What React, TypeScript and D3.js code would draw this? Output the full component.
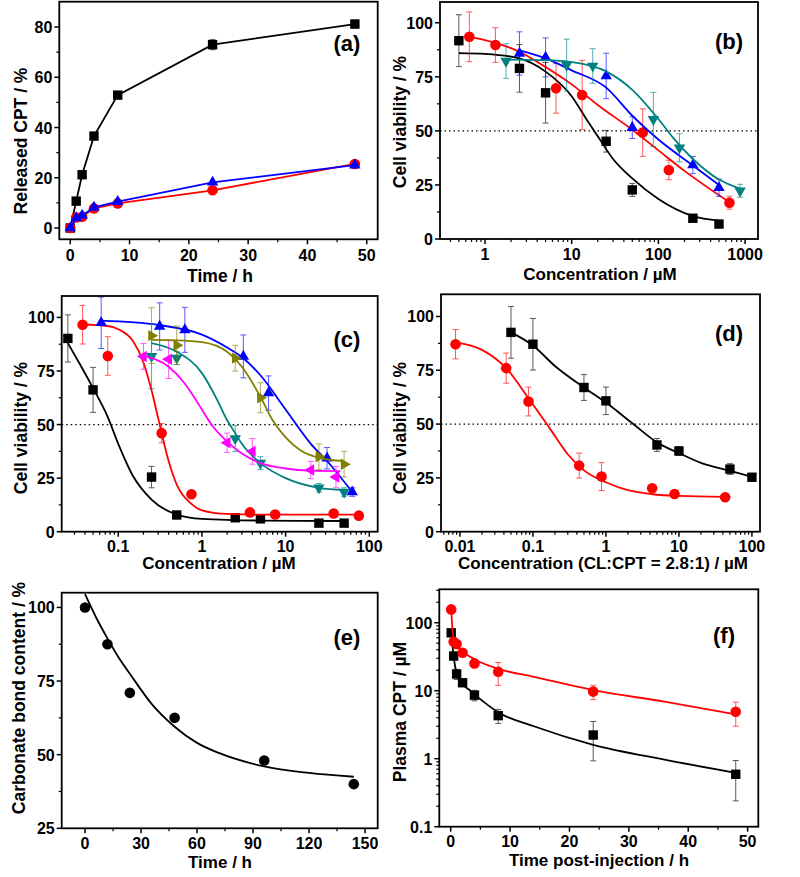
import React from 'react';
import * as d3 from 'd3';

const FONT = "'Liberation Sans', Arial, Helvetica, sans-serif";
const BLACK = '#000000';
const RED = '#ff0000';
const BLUE = '#0000ff';
const TEAL = '#008080';
const MAGENTA = '#ff00ff';
const OLIVE = '#808000';

// ---------- Panel (a) ----------
const aTime = [0, 1, 2, 4, 8, 24, 48];
const aBlack = [0, 10.7, 21.2, 36.6, 52.9, 73, 81.2];
const aBlackErr = [0, 0, 0, 0, 0, 2, 1.5];
const aRed = [0, 4.2, 4.5, 7.8, 9.8, 15, 25.5];
const aBlue = [0, 4, 5, 8.2, 10.5, 18.2, 25];
const aXTicks = [0, 10, 20, 30, 40, 50];
const aXMinor = [5, 15, 25, 35, 45];
const aYTicks = [0, 20, 40, 60, 80];
const aYMinor = [10, 30, 50, 70];

// ---------- Panel (b) ----------
const bBlackX = [0.5, 2.5, 5, 25, 50, 250, 500];
const bBlackY = [91.7, 78.9, 67.6, 45.2, 22.7, 9.6, 6.9];
const bBlackErr = [12, 11, 14, 5, 3, 1, 1];
const bBlackFitX = [0.5, 1, 2.5, 5, 10, 15, 20, 30, 50, 100, 250, 500];
const bBlackFitY = [86, 85.6, 83.5, 77.4, 66, 55, 47.5, 37, 28, 18.5, 10.6, 8.5];
const bRedX = [0.66, 1.32, 6.6, 13.2, 66, 132, 660];
const bRedY = [93.5, 89.7, 69.7, 66.6, 49.2, 31.9, 16.8];
const bRedErr = [11.5, 8, 11.5, 16, 11, 4.5, 3];
const bRedFitX = [0.66, 1, 2.5, 5, 10, 20, 50, 100, 200, 660];
const bRedFitY = [93.5, 92, 86.6, 79.5, 71.5, 62, 50.5, 41, 31.5, 17];
const bBlueX = [2.5, 5, 25, 50, 250, 500];
const bBlueY = [85.8, 84, 75.4, 51.5, 34.2, 23.7];
const bBlueErr = [10, 9, 10.5, 5, 4, 4];
const bBlueFitX = [2.5, 5, 10, 25, 50, 100, 250, 500];
const bBlueFitY = [87.2, 83.5, 78, 70, 57, 46, 34, 25];
const bTealX = [1.75, 8.75, 17.5, 87.5, 175, 875];
const bTealY = [82.3, 80.4, 80, 55.3, 42.2, 22.3];
const bTealErr = [8, 12, 8, 12.5, 6.5, 3];
const bTealFitX = [1.75, 5, 10, 25, 50, 100, 150, 250, 500, 875];
const bTealFitY = [83, 82.7, 81.8, 77.5, 69, 55.5, 46.5, 37, 27.5, 23.3];
const bXTicks = [1, 10, 100, 1000];
const bYTicks = [0, 25, 50, 75, 100];
const bYMinor = [12.5, 37.5, 62.5, 87.5];

// ---------- Panel (c) ----------
const cBlackX = [0.025, 0.05, 0.25, 0.5, 2.5, 5, 25, 50];
const cBlackY = [90.2, 66.2, 25.5, 7.8, 6.5, 6, 4, 4];
const cBlackErr = [11, 10.5, 5, 1, 1, 1, 0.5, 0.5];
const cBlackFitX = [0.025, 0.035, 0.05, 0.075, 0.1, 0.15, 0.25, 0.5, 1, 5, 50];
const cBlackFitY = [88, 78, 67, 53.5, 41, 26, 15, 8, 6, 5.2, 5];
const cRedX = [0.0375, 0.075, 0.33, 0.75, 3.75, 7.5, 37.5, 75];
const cRedY = [96.6, 82, 46, 17.5, 9, 8, 8.5, 7.5];
const cRedErr = [9, 9, 4.5, 1, 1, 1, 1, 1];
const cRedFitX = [0.0375, 0.075, 0.1, 0.15, 0.2, 0.25, 0.3, 0.4, 0.5, 0.75, 1, 2, 5, 75];
const cRedFitY = [96.7, 96, 94.5, 89, 79, 66, 53, 33, 22, 13, 10, 8.3, 8, 8];
const cBlueX = [0.0625, 0.3125, 0.625, 3.125, 6.25, 31.25, 62.5];
const cBlueY = [97.5, 95.8, 94.2, 81.8, 64.7, 34.3, 18.5];
const cBlueErr = [12, 11, 10.5, 10, 8, 5, 2];
const cBlueFitX = [0.0625, 0.3, 1, 2, 3, 5, 10, 20, 31.25, 62.5];
const cBlueFitY = [98.5, 96.5, 92, 86, 81.5, 73, 57, 41, 33, 18.5];
const cOliveX = [0.25, 0.5, 2.5, 5, 25, 50];
const cOliveY = [91.5, 87, 81, 62.5, 35, 31.5];
const cOliveErr = [13, 9, 6, 7, 6, 6];
const cOliveFitX = [0.25, 0.5, 1, 2, 3, 5, 7, 10, 15, 25, 50];
const cOliveFitY = [89.5, 89.3, 88.5, 84, 77, 63, 52, 44, 38, 34.5, 33];
const cTealX = [0.25, 0.5, 2.5, 5, 25, 50];
const cTealY = [81.8, 81, 43.5, 32, 20.5, 18.5];
const cTealErr = [15, 3, 6, 3, 2, 2];
const cTealFitX = [0.25, 0.5, 1, 1.5, 2, 2.5, 3, 5, 10, 25, 50];
const cTealFitY = [88, 84, 74, 62, 52, 46, 41, 32, 25, 20.5, 19.5];
const cMagX = [0.2, 0.4, 2, 4, 20, 40];
const cMagY = [81.8, 80.5, 41.5, 37.5, 28.8, 25.5];
const cMagErr = [6, 9, 4.5, 6, 4, 5];
const cMagFitX = [0.2, 0.4, 0.6, 0.8, 1, 1.3, 2, 3, 5, 10, 20, 45];
const cMagFitY = [82, 77, 70, 63, 57, 50, 42, 36.5, 32, 29.5, 28.5, 28.3];
const cXTicks = [0.1, 1, 10, 100];

// ---------- Panel (d) ----------
const dBlackX = [0.05, 0.1, 0.5, 1, 5, 10, 50, 100];
const dBlackY = [92.6, 87.1, 67, 60.8, 40.3, 37.5, 29.1, 25.3];
const dBlackErr = [12, 12, 6, 6.4, 3, 2, 2.5, 1];
const dBlackFitX = [0.05, 0.1, 0.2, 0.5, 1, 2.37, 5, 10, 20, 50, 100];
const dBlackFitY = [92.6, 86.5, 77, 67, 60, 50, 41.5, 36.5, 32, 28.3, 25.5];
const dRedX = [0.0087, 0.043, 0.087, 0.43, 0.87, 4.3, 8.7, 43];
const dRedY = [87.1, 76, 60.5, 30.7, 25.6, 20.2, 17.5, 16];
const dRedErr = [6.8, 7, 6.7, 5.8, 6.5, 1, 1, 1];
const dRedFitX = [0.0087, 0.02, 0.043, 0.087, 0.17, 0.3, 0.5, 1, 2, 4.3, 10, 43];
const dRedFitY = [88, 84.5, 76, 62, 48, 36, 28.5, 23, 19.3, 17.4, 16.6, 16.2];
const dXTicks = [0.01, 0.1, 1, 10, 100];

// ---------- Panel (e) ----------
const eTime = [0, 12, 24, 48, 96, 144];
const eContent = [100, 87.5, 71, 62.5, 48, 40];
const eFitX = [0, 6, 12, 18, 24, 36, 48, 60, 72, 96, 120, 144];
const eFitY = [104.5, 96.5, 89.5, 83, 77.5, 67, 59.5, 54, 50.5, 46, 43.8, 42.5];
const eXTicks = [0, 30, 60, 90, 120, 150];
const eXMinor = [15, 45, 75, 105, 135];
const eYTicks = [25, 50, 75, 100];
const eYMinor = [37.5, 62.5, 87.5];

// ---------- Panel (f) ----------
const fTime = [0.083, 0.5, 1, 2, 4, 8, 24, 48];
const fBlackY = [71, 32.4, 17.6, 13.1, 8.6, 4.3, 2.23, 0.59];
const fBlackErr = [5, 4, 3, 1.5, 1.5, 1, 1.3, 0.35];
const fRedY = [157, 52.6, 48.5, 36.2, 25.2, 19, 9.7, 4.9];
const fRedErr = [5, 3, 3, 2, 2, 7, 2.3, 1.9];
const fBlackFitX = [0.083, 0.5, 1, 2, 3.3, 5.5, 8, 14, 24, 36, 48];
const fBlackFitY = [75, 32, 18, 12.5, 10, 6.9, 4.8, 3, 1.6, 0.97, 0.62];
const fRedFitX = [0.083, 0.3, 0.5, 1, 2, 4, 8, 14, 24, 36, 48];
const fRedFitY = [157, 80, 58, 48, 38, 29, 21, 16, 10.2, 6.9, 4.5];
const fXTicks = [0, 10, 20, 30, 40, 50];
const fXMinor = [5, 15, 25, 35, 45];
const fYTicks = [0.1, 1, 10, 100];

type Series = {
  x: number[];
  y: number[];
  err?: number[];
  fitX?: number[];
  fitY?: number[];
  connect?: boolean;
  color: string;
  shape: string;
};

type PanelDef = {
  x: any;
  y: any;
  xTicks: number[];
  xMinor: number[];
  yTicks: number[];
  yMinor: number[];
  xTitle: string;
  xTitlePos: [number, number];
  xTitleSize?: number;
  xTickGap?: number;
  yTitle: string;
  yTitlePos: [number, number];
  tag: string;
  tagPos: [number, number];
  dotted?: number;
  series: Series[];
};

function logMinor(domain: number[]): number[] {
  const out: number[] = [];
  const k0 = Math.floor(Math.log10(domain[0]));
  const k1 = Math.ceil(Math.log10(domain[1]));
  for (let k = k0; k <= k1; k++) {
    for (let m = 2; m <= 9; m++) {
      const v = m * Math.pow(10, k);
      if (v >= domain[0] && v <= domain[1]) out.push(v);
    }
  }
  return out;
}

function Marker({ shape, cx, cy, color }: { shape: string; cx: number; cy: number; color: string }) {
  const R = 6.6;
  const a = R * 0.866;
  const h = R * 0.5;
  if (shape === 'square') return <rect x={cx - 4.7} y={cy - 4.7} width={9.4} height={9.4} fill={color} />;
  if (shape === 'circle') return <circle cx={cx} cy={cy} r={5.3} fill={color} />;
  let pts = '';
  if (shape === 'up') pts = `${cx},${cy - R} ${cx + a},${cy + h} ${cx - a},${cy + h}`;
  if (shape === 'down') pts = `${cx},${cy + R} ${cx + a},${cy - h} ${cx - a},${cy - h}`;
  if (shape === 'left') pts = `${cx - R},${cy} ${cx + h},${cy - a} ${cx + h},${cy + a}`;
  if (shape === 'right') pts = `${cx + R},${cy} ${cx - h},${cy - a} ${cx - h},${cy + a}`;
  return <polygon points={pts} fill={color} />;
}

function fmt(v: number): string {
  return String(v);
}

function Panel({ p }: { p: PanelDef }) {
  const [l, r] = p.x.range();
  const [b, t] = p.y.range();
  const lineGen = d3
    .line<[number, number]>()
    .x((d) => d[0])
    .y((d) => d[1]);
  const fitGen = d3
    .line<[number, number]>()
    .x((d) => d[0])
    .y((d) => d[1])
    .curve(d3.curveMonotoneX);
  const tickFont = 16;
  const gap = p.xTickGap ?? 22;
  return (
    <g>
      {p.dotted !== undefined && (
        <line x1={l} x2={r} y1={p.y(p.dotted)} y2={p.y(p.dotted)} stroke="#000" strokeWidth={1.3} strokeDasharray="1.5,3" />
      )}
      {p.series.map((s, si) => (
        <g key={si}>
          {s.err &&
            s.x.map((xv, i) => {
              const e = s.err![i];
              if (!e) return null;
              const cx = p.x(xv);
              const y1 = p.y(s.y[i] + e);
              const y2 = p.y(Math.max(s.y[i] - e, p.y.domain()[0]));
              return (
                <g key={i} stroke={s.color} strokeWidth={1} opacity={0.65}>
                  <line x1={cx} x2={cx} y1={y1} y2={y2} />
                  <line x1={cx - 3} x2={cx + 3} y1={y1} y2={y1} />
                  <line x1={cx - 3} x2={cx + 3} y1={y2} y2={y2} />
                </g>
              );
            })}
          {s.connect && (
            <path
              d={lineGen(s.x.map((xv, i) => [p.x(xv), p.y(s.y[i])] as [number, number])) || ''}
              fill="none"
              stroke={s.color}
              strokeWidth={1.8}
            />
          )}
          {s.fitX && (
            <path
              d={fitGen(s.fitX.map((xv, i) => [p.x(xv), p.y(s.fitY![i])] as [number, number])) || ''}
              fill="none"
              stroke={s.color}
              strokeWidth={1.8}
            />
          )}
          {s.x.map((xv, i) => (
            <Marker key={i} shape={s.shape} cx={p.x(xv)} cy={p.y(s.y[i])} color={s.color} />
          ))}
        </g>
      ))}
      <rect x={l} y={t} width={r - l} height={b - t} fill="none" stroke="#000" strokeWidth={1.8} />
      {p.xTicks.map((v, i) => (
        <g key={'xt' + i}>
          <line x1={p.x(v)} x2={p.x(v)} y1={b} y2={b + 5} stroke="#000" strokeWidth={1.5} />
          <text x={p.x(v)} y={b + gap} textAnchor="middle" fontSize={tickFont} fontWeight="bold" fontFamily={FONT}>
            {fmt(v)}
          </text>
        </g>
      ))}
      {p.xMinor.map((v, i) => (
        <line key={'xm' + i} x1={p.x(v)} x2={p.x(v)} y1={b} y2={b + 3} stroke="#000" strokeWidth={1.2} />
      ))}
      {p.yTicks.map((v, i) => (
        <g key={'yt' + i}>
          <line x1={l - 5} x2={l} y1={p.y(v)} y2={p.y(v)} stroke="#000" strokeWidth={1.5} />
          <text x={l - 7} y={p.y(v) + 6} textAnchor="end" fontSize={tickFont} fontWeight="bold" fontFamily={FONT}>
            {fmt(v)}
          </text>
        </g>
      ))}
      {p.yMinor.map((v, i) => (
        <line key={'ym' + i} x1={l - 3} x2={l} y1={p.y(v)} y2={p.y(v)} stroke="#000" strokeWidth={1.2} />
      ))}
      <text
        x={p.xTitlePos[0]}
        y={p.xTitlePos[1]}
        textAnchor="middle"
        fontSize={p.xTitleSize ?? 17.5}
        fontWeight="bold"
        fontFamily={FONT}
      >
        {p.xTitle}
      </text>
      <text
        transform={`translate(${p.yTitlePos[0]},${p.yTitlePos[1]}) rotate(-90)`}
        textAnchor="middle"
        fontSize={17.5}
        fontWeight="bold"
        fontFamily={FONT}
      >
        {p.yTitle}
      </text>
      <text x={p.tagPos[0]} y={p.tagPos[1]} textAnchor="middle" fontSize={22} fontWeight="bold" fontFamily={FONT}>
        {p.tag}
      </text>
    </g>
  );
}

export default function App() {
  const ax = d3.scaleLinear().domain([-1.85, 51.85]).range([59.3, 377.7]);
  const ay = d3.scaleLinear().domain([-4.5, 90.1]).range([239.3, 1.7]);
  const bx = d3.scaleLog().domain([0.303, 1409]).range([440, 758]);
  const by = d3.scaleLinear().domain([0, 109.6]).range([239, 2]);
  const cx = d3.scaleLog().domain([0.0211, 126]).range([61.7, 377.7]);
  const cy = d3.scaleLinear().domain([0, 110]).range([531.7, 296]);
  const dx = d3.scaleLog().domain([0.0055, 129]).range([441, 760]);
  const dy = d3.scaleLinear().domain([0, 110.3]).range([531.7, 294.3]);
  const ex = d3.scaleLinear().domain([-12.5, 156.8]).range([61.7, 377.7]);
  const ey = d3.scaleLinear().domain([25, 105]).range([828.3, 592.7]);
  const fx = d3.scaleLinear().domain([-1.92, 51.8]).range([439.3, 758.3]);
  const fy = d3.scaleLog().domain([0.1, 310]).range([826.7, 589.3]);

  const panels: PanelDef[] = [
    {
      x: ax, y: ay, xTicks: aXTicks, xMinor: aXMinor, yTicks: aYTicks, yMinor: aYMinor,
      xTitle: 'Time / h', xTitlePos: [220, 282], yTitle: 'Released CPT / %', yTitlePos: [27, 141],
      tag: '(a)', tagPos: [347, 51],
      series: [
        { x: aTime, y: aBlack, err: aBlackErr, connect: true, color: BLACK, shape: 'square' },
        { x: aTime, y: aRed, connect: true, color: RED, shape: 'circle' },
        { x: aTime, y: aBlue, connect: true, color: BLUE, shape: 'up' },
      ],
    },
    {
      x: bx, y: by, xTicks: bXTicks, xMinor: logMinor(bx.domain()), yTicks: bYTicks, yMinor: bYMinor,
      xTitle: 'Concentration / µM', xTitlePos: [600, 280], xTitleSize: 17, xTickGap: 20.5,
      yTitle: 'Cell viability / %', yTitlePos: [406, 122],
      tag: '(b)', tagPos: [729, 49], dotted: 50,
      series: [
        { x: bBlackX, y: bBlackY, err: bBlackErr, fitX: bBlackFitX, fitY: bBlackFitY, color: BLACK, shape: 'square' },
        { x: bRedX, y: bRedY, err: bRedErr, fitX: bRedFitX, fitY: bRedFitY, color: RED, shape: 'circle' },
        { x: bBlueX, y: bBlueY, err: bBlueErr, fitX: bBlueFitX, fitY: bBlueFitY, color: BLUE, shape: 'up' },
        { x: bTealX, y: bTealY, err: bTealErr, fitX: bTealFitX, fitY: bTealFitY, color: TEAL, shape: 'down' },
      ],
    },
    {
      x: cx, y: cy, xTicks: cXTicks, xMinor: logMinor(cx.domain()), yTicks: bYTicks, yMinor: bYMinor,
      xTitle: 'Concentration / µM', xTitlePos: [219, 569], xTitleSize: 17, xTickGap: 20.5,
      yTitle: 'Cell viability / %', yTitlePos: [27, 428],
      tag: '(c)', tagPos: [347, 347], dotted: 50,
      series: [
        { x: cBlackX, y: cBlackY, err: cBlackErr, fitX: cBlackFitX, fitY: cBlackFitY, color: BLACK, shape: 'square' },
        { x: cRedX, y: cRedY, err: cRedErr, fitX: cRedFitX, fitY: cRedFitY, color: RED, shape: 'circle' },
        { x: cBlueX, y: cBlueY, err: cBlueErr, fitX: cBlueFitX, fitY: cBlueFitY, color: BLUE, shape: 'up' },
        { x: cTealX, y: cTealY, err: cTealErr, fitX: cTealFitX, fitY: cTealFitY, color: TEAL, shape: 'down' },
        { x: cMagX, y: cMagY, err: cMagErr, fitX: cMagFitX, fitY: cMagFitY, color: MAGENTA, shape: 'left' },
        { x: cOliveX, y: cOliveY, err: cOliveErr, fitX: cOliveFitX, fitY: cOliveFitY, color: OLIVE, shape: 'right' },
      ],
    },
    {
      x: dx, y: dy, xTicks: dXTicks, xMinor: logMinor(dx.domain()), yTicks: bYTicks, yMinor: bYMinor,
      xTitle: 'Concentration (CL:CPT = 2.8:1) / µM', xTitlePos: [603, 569], xTitleSize: 17, xTickGap: 20.5,
      yTitle: 'Cell viability / %', yTitlePos: [406, 428],
      tag: '(d)', tagPos: [729, 341], dotted: 50,
      series: [
        { x: dBlackX, y: dBlackY, err: dBlackErr, fitX: dBlackFitX, fitY: dBlackFitY, color: BLACK, shape: 'square' },
        { x: dRedX, y: dRedY, err: dRedErr, fitX: dRedFitX, fitY: dRedFitY, color: RED, shape: 'circle' },
      ],
    },
    {
      x: ex, y: ey, xTicks: eXTicks, xMinor: eXMinor, yTicks: eYTicks, yMinor: eYMinor,
      xTitle: 'Time / h', xTitlePos: [220, 868], xTitleSize: 17, xTickGap: 20.5,
      yTitle: 'Carbonate bond content / %', yTitlePos: [25, 698],
      tag: '(e)', tagPos: [347, 645],
      series: [{ x: eTime, y: eContent, fitX: eFitX, fitY: eFitY, color: BLACK, shape: 'circle' }],
    },
    {
      x: fx, y: fy, xTicks: fXTicks, xMinor: fXMinor, yTicks: fYTicks, yMinor: logMinor(fy.domain()),
      xTitle: 'Time post-injection / h', xTitlePos: [599, 866], xTitleSize: 17, xTickGap: 20.5,
      yTitle: 'Plasma CPT / µM', yTitlePos: [406, 712],
      tag: '(f)', tagPos: [724, 643],
      series: [
        { x: fTime, y: fBlackY, err: fBlackErr, fitX: fBlackFitX, fitY: fBlackFitY, color: BLACK, shape: 'square' },
        { x: fTime, y: fRedY, err: fRedErr, fitX: fRedFitX, fitY: fRedFitY, color: RED, shape: 'circle' },
      ],
    },
  ];

  return (
    <svg
      width={800}
      height={877}
      style={{ position: 'absolute', left: 0, top: 0, background: '#fff', display: 'block' }}
    >
      <rect x={0} y={0} width={800} height={877} fill="#fff" />
      {panels.map((p, i) => (
        <Panel key={i} p={p} />
      ))}
    </svg>
  );
}
